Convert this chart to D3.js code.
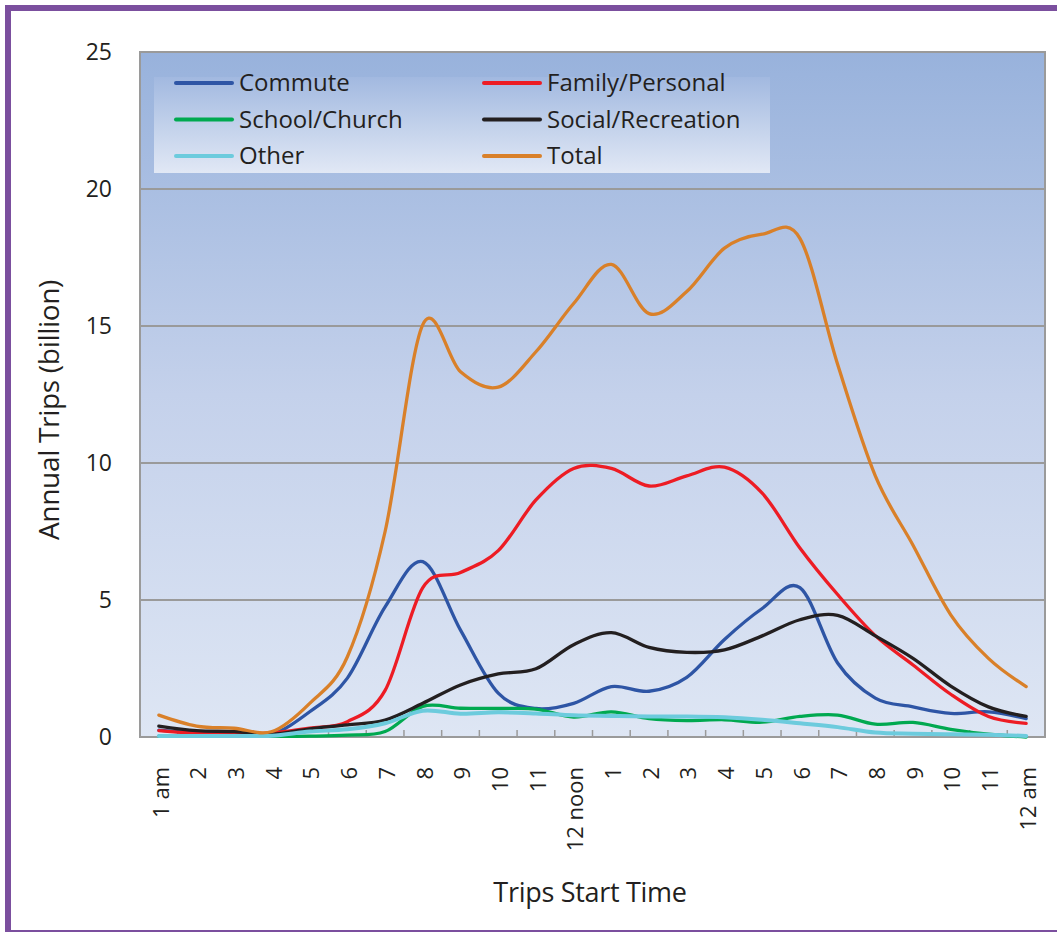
<!DOCTYPE html>
<html>
<head>
<meta charset="utf-8">
<script src="https://cdn.jsdelivr.net/npm/d3@7"></script>
<style>
  body { margin: 0; background: #fff; }
  svg { display: block; font-family: "Open Sans", sans-serif; }
</style>
</head>
<body>
<div id="chart"></div>
<script>
// --- Data (annual trips, billion, by trip start hour) ---
const hourLabels = ["1 am", "2", "3", "4", "5", "6", "7", "8", "9", "10", "11", "12 noon",
                    "1", "2", "3", "4", "5", "6", "7", "8", "9", "10", "11", "12 am"];
const commute = [0.25, 0.15, 0.1, 0.1, 0.92, 2.15, 4.75, 6.4, 3.9, 1.6, 1.04, 1.23,
                 1.84, 1.67, 2.18, 3.56, 4.69, 5.45, 2.7, 1.42, 1.1, 0.86, 0.92, 0.67];
const family = [0.23, 0.13, 0.1, 0.15, 0.32, 0.56, 1.7, 5.45, 6.0, 6.8, 8.65, 9.8,
                9.8, 9.16, 9.53, 9.85, 8.9, 6.9, 5.2, 3.7, 2.63, 1.56, 0.75, 0.5];
const school = [0.03, 0.02, 0.02, 0.02, 0.03, 0.07, 0.2, 1.12, 1.05, 1.04, 1.02, 0.73,
                0.92, 0.67, 0.6, 0.63, 0.54, 0.75, 0.8, 0.47, 0.53, 0.28, 0.1, 0.0];
const social = [0.4, 0.23, 0.2, 0.1, 0.3, 0.44, 0.62, 1.23, 1.9, 2.3, 2.49, 3.37,
                3.81, 3.27, 3.09, 3.18, 3.69, 4.28, 4.44, 3.69, 2.87, 1.86, 1.1, 0.75];
const other = [0.04, 0.04, 0.04, 0.05, 0.2, 0.28, 0.5, 0.96, 0.85, 0.9, 0.86, 0.79,
               0.77, 0.75, 0.75, 0.72, 0.63, 0.5, 0.36, 0.16, 0.12, 0.1, 0.08, 0.04];
const total = [0.8, 0.4, 0.32, 0.2, 1.23, 2.93, 7.5, 15.05, 13.33, 12.77, 14.06, 15.82,
               17.25, 15.45, 16.26, 17.84, 18.35, 18.2, 13.6, 9.53, 7.0, 4.46, 2.87, 1.84];
const yTicks = [0, 5, 10, 15, 20, 25];

const seriesNames = ["Commute", "Family/Personal", "School/Church", "Social/Recreation", "Other", "Total"];
const seriesValues = [commute, family, school, social, other, total];
const seriesColors = ["#2e55a5", "#ed1c24", "#00a950", "#231f20", "#6ccbdd", "#d98029"];

// --- Setup ---
const width = 1057, height = 934;
const plot = { left: 140, top: 52, right: 1045, bottom: 737 };

const svg = d3.select("#chart").append("svg")
    .attr("width", width)
    .attr("height", height);

// gradients for plot area and legend
const defs = svg.append("defs");
const plotGrad = defs.append("linearGradient")
    .attr("id", "plotGrad").attr("x1", 0).attr("y1", 0).attr("x2", 0).attr("y2", 1);
plotGrad.append("stop").attr("offset", "0%").attr("stop-color", "#98b2dc");
plotGrad.append("stop").attr("offset", "50%").attr("stop-color", "#c4d1eb");
plotGrad.append("stop").attr("offset", "100%").attr("stop-color", "#dee6f4");

const legGrad = defs.append("linearGradient")
    .attr("id", "legGrad").attr("x1", 0).attr("y1", 0).attr("x2", 0).attr("y2", 1);
legGrad.append("stop").attr("offset", "0%").attr("stop-color", "#a2b9e0");
legGrad.append("stop").attr("offset", "100%").attr("stop-color", "#e1e8f5");

// purple frame (left, top, bottom)
svg.append("rect").attr("x", 5).attr("y", 5).attr("width", 6).attr("height", 927).attr("fill", "#7b4f9e");
svg.append("rect").attr("x", 5).attr("y", 5).attr("width", 1052).attr("height", 6).attr("fill", "#7b4f9e");
svg.append("rect").attr("x", 5).attr("y", 930).attr("width", 1052).attr("height", 2).attr("fill", "#7b4f9e");

// scales
const x = d3.scaleBand()
    .domain(d3.range(hourLabels.length))
    .range([plot.left, plot.right]);

const y = d3.scaleLinear()
    .domain([0, 25])
    .range([plot.bottom, plot.top]);

// plot background
svg.append("rect")
    .attr("x", plot.left).attr("y", plot.top)
    .attr("width", plot.right - plot.left).attr("height", plot.bottom - plot.top)
    .attr("fill", "url(#plotGrad)");

// gridlines
svg.append("g")
    .selectAll("line")
    .data(yTicks.slice(1))
    .join("line")
    .attr("x1", plot.left).attr("x2", plot.right)
    .attr("y1", d => y(d)).attr("y2", d => y(d))
    .attr("stroke", "#9a9a9a")
    .attr("stroke-width", 2);

// x tick marks at category boundaries (pointing up into the plot)
svg.append("g")
    .selectAll("line")
    .data(d3.range(1, hourLabels.length))
    .join("line")
    .attr("x1", d => x(d)).attr("x2", d => x(d))
    .attr("y1", plot.bottom).attr("y2", plot.bottom - 7)
    .attr("stroke", "#9a9a9a")
    .attr("stroke-width", 1.5);

// plot border
svg.append("rect")
    .attr("x", plot.left).attr("y", plot.top)
    .attr("width", plot.right - plot.left).attr("height", plot.bottom - plot.top)
    .attr("fill", "none")
    .attr("stroke", "#9a9a9a")
    .attr("stroke-width", 2);

// y axis labels
const yAxis = svg.append("g")
    .attr("transform", `translate(${plot.left},0)`)
    .call(d3.axisLeft(y).tickValues(yTicks).tickSize(0).tickPadding(28));
yAxis.select(".domain").remove();
yAxis.selectAll("text")
    .attr("font-family", "Open Sans")
    .attr("font-size", 23)
    .attr("fill", "#231f20");

// x axis labels (rotated)
const xAxis = svg.append("g")
    .attr("transform", `translate(0,${plot.bottom})`)
    .call(d3.axisBottom(x).tickSize(0).tickFormat(i => hourLabels[i]));
xAxis.select(".domain").remove();
xAxis.selectAll("text")
    .attr("transform", "rotate(-90)")
    .attr("text-anchor", "end")
    .attr("x", -30)
    .attr("y", 2)
    .attr("dy", "0.35em")
    .attr("font-family", "Open Sans")
    .attr("font-size", 22)
    .attr("fill", "#231f20");

// --- Lines ---
// uniform Catmull-Rom, close to the spreadsheet "smoothed line" look
const line = d3.line()
    .x((d, i) => x(i) + x.bandwidth() / 2)
    .y(d => y(d))
    .curve(d3.curveCatmullRom.alpha(0));

svg.append("g")
    .selectAll("path")
    .data(seriesValues)
    .join("path")
    .attr("d", d => line(d))
    .attr("fill", "none")
    .attr("stroke", (d, i) => seriesColors[i])
    .attr("stroke-width", (d, i) => seriesNames[i] === "Other" ? 4 : 3.3)
    .attr("stroke-linejoin", "round")
    .attr("stroke-linecap", "round");

// --- Legend ---
const legend = svg.append("g");
legend.append("rect")
    .attr("x", 154).attr("y", 77)
    .attr("width", 616).attr("height", 96)
    .attr("fill", "url(#legGrad)");

const legItem = legend.selectAll("g.item")
    .data(seriesNames)
    .join("g")
    .attr("class", "item")
    .attr("transform", (d, i) => `translate(${i % 2 === 0 ? 176 : 484},${83 + Math.floor(i / 2) * 36.5})`);

legItem.append("line")
    .attr("x1", 0).attr("x2", 56)
    .attr("stroke", (d, i) => seriesColors[i])
    .attr("stroke-width", 4)
    .attr("stroke-linecap", "round");

legItem.append("text")
    .attr("x", 63)
    .attr("dy", "0.35em")
    .attr("font-size", 24)
    .attr("fill", "#231f20")
    .text(d => d);

// --- Axis titles ---
svg.append("text")
    .attr("x", 590).attr("y", 893)
    .attr("dy", "0.35em")
    .attr("text-anchor", "middle")
    .attr("font-size", 27)
    .attr("letter-spacing", -0.3)
    .attr("fill", "#231f20")
    .text("Trips Start Time");

svg.append("text")
    .attr("transform", "translate(49,410) rotate(-90)")
    .attr("dy", "0.35em")
    .attr("text-anchor", "middle")
    .attr("font-size", 28)
    .attr("letter-spacing", -0.3)
    .attr("fill", "#231f20")
    .text("Annual Trips (billion)");
</script>
</body>
</html>
